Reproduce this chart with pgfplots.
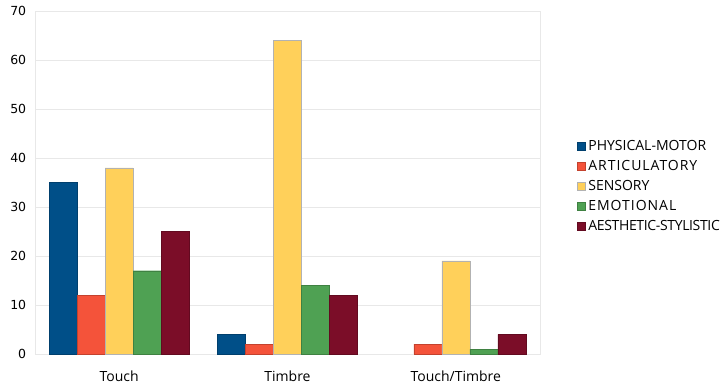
\documentclass[border=0pt]{standalone}
\usepackage{pgfplots}
\pgfplotsset{compat=1.18}
\usepackage{fontspec}
\setmainfont{Open Sans}
\newfontfamily\tickfont{DejaVu Sans}

\definecolor{cPhys}{HTML}{004F88}
\definecolor{cArt}{HTML}{F4533A}
\definecolor{cSens}{HTML}{FFD05A}
\definecolor{cEmo}{HTML}{4FA153}
\definecolor{cAes}{HTML}{7B0D28}
\definecolor{gridgray}{HTML}{E8E8E8}

\newcommand{\spaced}[1]{{\addfontfeature{LetterSpace=7}#1}}
\newcommand{\tight}[1]{{\addfontfeature{LetterSpace=-2.5}#1}}

\begin{document}
\begin{tikzpicture}[x=1pt,y=1pt]
\useasboundingbox (-35,-32) rectangle (689,354);
\begin{axis}[
  at={(0,0)}, anchor=south west,
  scale only axis,
  width=505pt, height=343pt,
  ymin=0, ymax=70,
  ytick={0,10,...,70},
  xmin=-0.5, xmax=2.5,
  xtick={0,1,2},
  xticklabels={Touch,Timbre,Touch/Timbre},
  extra x ticks={-0.5,0.5,1.5,2.5},
  extra x tick labels={},
  extra x tick style={
    major tick length=9pt,
    tick style={draw=gridgray, line width=0.8pt},
  },
  major x tick style={draw=none},
  x tick label style={font=\fontsize{14}{16}\selectfont, yshift=-9pt},
  y tick label style={font=\tickfont\fontsize{12.5}{14}\selectfont, xshift=-1pt},
  /pgf/number format/assume math mode=true,
  ytick style={draw=none},
  ymajorgrids,
  grid style={draw=gridgray, line width=0.8pt},
  axis line style={draw=gridgray, line width=0.8pt},
  tick align=outside,
  ybar=0pt,
  bar width=28pt,
  legend style={
    at={(1.073,0.629)}, anchor=north west,
    draw=none, fill=none,
    font=\fontsize{14}{16}\selectfont,
    row sep=4.3pt,
    inner sep=0pt,
    /tikz/every even column/.append style={column sep=0pt},
  },
  legend cell align=left,
  legend image code/.code={
    \fill[#1] (0pt,-4pt) rectangle (8pt,4pt);
  },
  legend style={nodes={inner xsep=3pt}},
]
\addplot[fill=cPhys, draw=cPhys!80!black, line width=0.3pt] coordinates {(0,35) (1,4)};
\addplot[fill=cArt, draw=cArt!80!black, line width=0.3pt] coordinates {(0,12) (1,2) (2,2)};
\addplot[fill=cSens, draw=black!30, line width=0.3pt] coordinates {(0,38) (1,64) (2,19)};
\addplot[fill=cEmo, draw=cEmo!80!black, line width=0.3pt] coordinates {(0,17) (1,14) (2,1)};
\addplot[fill=cAes, draw=cAes!80!black, line width=0.3pt] coordinates {(0,25) (1,12) (2,4)};
\legend{PHYSICAL-MOTOR,\spaced{ARTICULATORY},SENSORY,\spaced{EMOTIONAL},\tight{AESTHETIC-STYLISTIC}}
\end{axis}
\end{tikzpicture}
\end{document}
